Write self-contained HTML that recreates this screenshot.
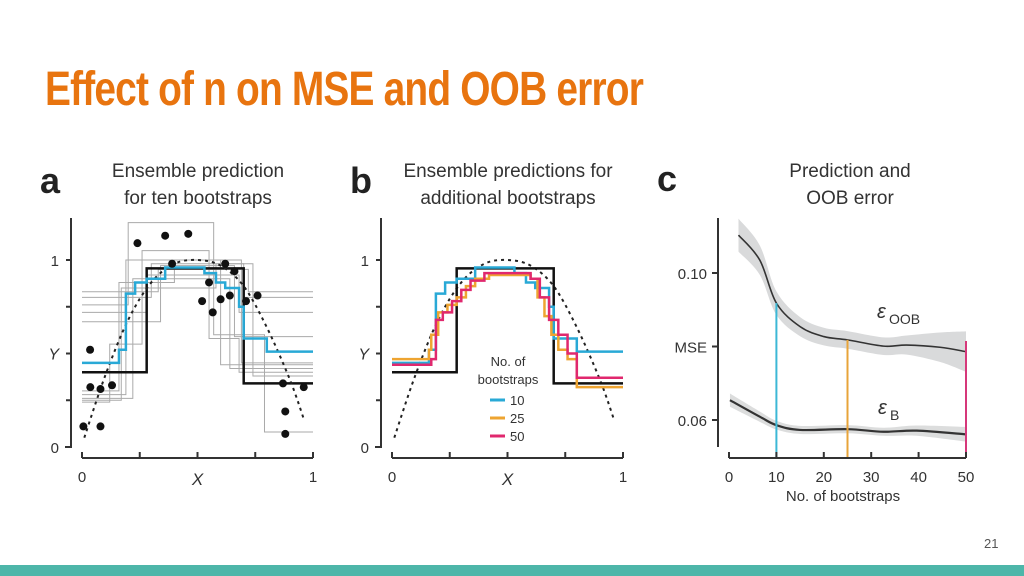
<!DOCTYPE html>
<html><head><meta charset="utf-8"><style>
html,body{margin:0;padding:0;background:#fff;}
#root{position:relative;width:1024px;height:576px;overflow:hidden;background:#fff;font-family:"Liberation Sans",sans-serif;}
#title{position:absolute;left:45px;top:62px;font-family:"Liberation Sans Narrow","Liberation Sans",sans-serif;font-weight:bold;font-size:48px;color:#e8740f;white-space:nowrap;transform-origin:0 0;letter-spacing:-1px;}
#pagenum{position:absolute;left:984px;top:536px;font-size:13px;color:#555;}
#bar{position:absolute;left:0;top:565px;width:1024px;height:11px;background:#4db6a9;}
svg{position:absolute;left:0;top:0;}
</style></head><body>
<div id="root">
<div id="title">Effect of n on MSE and OOB error</div>
<svg id="chart" width="1024" height="576"></svg>
<div id="pagenum">21</div>
<div id="bar"></div>
</div>
<script>
// ---- data ----
const trueStep = [[0,0.40],[0.28,0.955],[0.70,0.34]];
const truthCurve = [[0.01,0.05],[0.1,0.38],[0.2,0.68],[0.3,0.88],[0.4,0.98],[0.5,1.0],[0.6,0.97],[0.7,0.86],[0.8,0.64],[0.9,0.36],[0.96,0.15]];
const blueStep = [[0,0.45],[0.16,0.52],[0.19,0.82],[0.23,0.88],[0.28,0.90],[0.36,0.96],[0.53,0.93],[0.58,0.88],[0.62,0.85],[0.68,0.75],[0.70,0.58],[0.80,0.51]];
const orangeStep = [[0,0.47],[0.16,0.52],[0.17,0.60],[0.20,0.72],[0.24,0.76],[0.28,0.80],[0.32,0.86],[0.36,0.90],[0.42,0.92],[0.60,0.90],[0.63,0.80],[0.66,0.70],[0.69,0.60],[0.72,0.52],[0.76,0.47],[0.80,0.32]];
const magentaStep = [[0,0.44],[0.17,0.47],[0.19,0.68],[0.22,0.72],[0.26,0.78],[0.30,0.84],[0.34,0.89],[0.40,0.93],[0.60,0.90],[0.64,0.80],[0.68,0.68],[0.72,0.60],[0.76,0.50],[0.80,0.37]];
const grayTrees = [
 [[0,0.83],[0.33,0.95],[0.72,0.83]],
 [[0,0.80],[0.30,0.98],[0.70,0.80]],
 [[0,0.76],[0.20,1.2],[0.57,0.60],[0.79,0.08]],
 [[0,0.72],[0.28,0.92],[0.68,0.72]],
 [[0,0.67],[0.34,0.97],[0.66,0.59]],
 [[0,0.30],[0.16,0.88],[0.40,1.0],[0.69,0.45]],
 [[0,0.28],[0.19,1.0],[0.60,0.44]],
 [[0,0.26],[0.22,0.90],[0.64,0.42]],
 [[0,0.25],[0.17,0.85],[0.58,0.98],[0.74,0.38]],
 [[0,0.24],[0.12,0.55],[0.26,1.05],[0.55,0.58],[0.68,0.40]]
];
const pointsX = [0.035,0.036,0.08,0.13,0.006,0.08,0.24,0.36,0.46,0.39,0.52,0.566,0.55,0.60,0.64,0.62,0.66,0.71,0.76,0.87,0.96,0.88,0.88];
const pointsY = [0.52,0.32,0.31,0.33,0.11,0.11,1.09,1.13,1.14,0.98,0.78,0.72,0.88,0.79,0.81,0.98,0.94,0.78,0.81,0.34,0.32,0.19,0.07];
const nBoot = [2,6.5,10,15,20,25,32.6,37.5,44.5,50];
const oobMSE = [0.1103,0.1035,0.0918,0.0854,0.0827,0.0818,0.0801,0.0804,0.0798,0.0786];
const oobBand = [0.0045,0.0040,0.0032,0.0026,0.0024,0.0024,0.0024,0.0026,0.0040,0.0055];
const bBoot = [0.2,6.5,10,15,25,32.6,39.6,50];
const bMSE = [0.0654,0.0609,0.0586,0.0573,0.0575,0.0568,0.0571,0.0561];
const bBand = [0.0018,0.0014,0.0012,0.0011,0.0011,0.0011,0.0014,0.0020];
const markers = [10,25,50];
const markerTops = [0.0918,0.0818,0.0815];
const xTicksAB = ['0','','','','1'];
const xTicksC = [0,10,20,30,40,50];
const yTicksC = [0.06,0.10];

const NS='http://www.w3.org/2000/svg';
const svg=document.getElementById('chart');
function mk(tag,attrs,parent){const e=document.createElementNS(NS,tag);for(const k in attrs)e.setAttribute(k,attrs[k]);(parent||svg).appendChild(e);return e;}
function txt(x,y,s,size,anchor,parent,extra){const t=mk('text',Object.assign({x:x,y:y,'font-size':size,'text-anchor':anchor||'start',fill:'#333','font-family':'Liberation Sans, sans-serif'},extra||{}),parent);t.textContent=s;return t;}
function smooth(pts){let d='M'+pts[0][0]+','+pts[0][1];
 for(let i=0;i<pts.length-1;i++){const p0=pts[Math.max(0,i-1)],p1=pts[i],p2=pts[i+1],p3=pts[Math.min(pts.length-1,i+2)];
  const c1=[p1[0]+(p2[0]-p0[0])/6,p1[1]+(p2[1]-p0[1])/6],c2=[p2[0]-(p3[0]-p1[0])/6,p2[1]-(p3[1]-p1[1])/6];
  d+='C'+c1[0]+','+c1[1]+' '+c2[0]+','+c2[1]+' '+p2[0]+','+p2[1];}
 return d;}

function panelAB(ox,label,t1,t2,id){
  const g=mk('g',{});
  
  
  const X=v=>ox+11+v*231, Y=v=>447-v*187;
  const stepPath=(arr)=>{let d='';arr.forEach((p,i)=>{const x=X(p[0]);const y=Y(p[1]);if(i===0)d+='M'+x+','+y;else d+='L'+x+','+Y(arr[i-1][1])+'L'+x+','+y;});d+='L'+X(1)+','+Y(arr[arr.length-1][1]);return d;};
  const pl=txt(ox-31,193,label,36,'start',g,{'font-weight':'bold',fill:'#222'});
   
  const tt=txt(ox+127,177,t1,19,'middle',g,{fill:'#333'});
   
  txt(ox+127,204,t2,19,'middle',g,{fill:'#333'});
  const ya=mk('path',{d:'M'+ox+',218V447H'+(ox-6),stroke:'#333','stroke-width':2,fill:'none'},g);
   
  [0.25,0.5,0.75,1].forEach(v=>mk('line',{x1:ox-5,x2:ox,y1:Y(v),y2:Y(v),stroke:'#333','stroke-width':2},g));
  txt(ox-12,Y(0)+6,'0',15,'end',g); txt(ox-12,Y(1)+6,'1',15,'end',g);
  txt(ox-12,Y(0.5)+6,'Y',16,'end',g,{'font-style':'italic'});
  const xa=mk('path',{d:'M'+X(0)+',458H'+X(1),stroke:'#333','stroke-width':2,fill:'none'},g);
   
  xTicksAB.forEach((s,i)=>{const v=i/4;mk('line',{x1:X(v),x2:X(v),y1:452,y2:458,stroke:'#333','stroke-width':2},g);if(s)txt(X(v),482,s,15,'middle',g);});
  txt(X(0.5),485,'X',17,'middle',g,{'font-style':'italic'});
  return {g,X,Y,stepPath};
}

// Panel a
const A=panelAB(71,'a','Ensemble prediction','for ten bootstraps','a');
grayTrees.forEach(t=>{const p=mk('path',{d:A.stepPath(t),stroke:'#aaa','stroke-width':1,fill:'none'},A.g);
  });
let pa=mk('path',{d:A.stepPath(trueStep),stroke:'#111','stroke-width':2.5,fill:'none'},A.g);
 
pa=mk('path',{d:smooth(truthCurve.map(p=>[A.X(p[0]),A.Y(p[1])])),stroke:'#222','stroke-width':2,'stroke-dasharray':'3,4',fill:'none'},A.g);
 
pa=mk('path',{d:A.stepPath(blueStep),stroke:'#29a9d6','stroke-width':2.5,fill:'none'},A.g);
 
pointsX.forEach((x,i)=>{const c=mk('circle',{cx:A.X(x),cy:A.Y(pointsY[i]),r:4,fill:'#111'},A.g);
  });

// Panel b
const B=panelAB(381,'b','Ensemble predictions for','additional bootstraps','b');
let pb=mk('path',{d:smooth(truthCurve.map(p=>[B.X(p[0]),B.Y(p[1])])),stroke:'#222','stroke-width':2,'stroke-dasharray':'3,4',fill:'none'},B.g);
 
pb=mk('path',{d:B.stepPath(trueStep),stroke:'#111','stroke-width':2.5,fill:'none'},B.g);
 
pb=mk('path',{d:B.stepPath(blueStep),stroke:'#29a9d6','stroke-width':2.5,fill:'none'},B.g);
 
pb=mk('path',{d:B.stepPath(orangeStep),stroke:'#eea431','stroke-width':2.5,fill:'none'},B.g);
 
pb=mk('path',{d:B.stepPath(magentaStep),stroke:'#e0286e','stroke-width':2.5,fill:'none'},B.g);
 
const lg=mk('g',{},B.g);
 
txt(508,366,'No. of',13,'middle',lg); txt(508,384,'bootstraps',13,'middle',lg);
[['10','#29a9d6'],['25','#eea431'],['50','#e0286e']].forEach((e,i)=>{const y=404+i*18;
 const ln=mk('line',{x1:490,x2:505,y1:y-4,y2:y-4,stroke:e[1],'stroke-width':3},lg);
  
 txt(510,y+1,e[0],13,'start',lg);});

// Panel c
const gc=mk('g',{});
 
const CX=v=>729+v*4.74, CY=v=>420-(v-0.06)*3675;
txt(657,191,'c',36,'start',gc,{'font-weight':'bold',fill:'#222'});
txt(850,177,'Prediction and',19,'middle',gc); txt(850,204,'OOB error',19,'middle',gc);
function band(xs,ys,ws,fill,name){const up=xs.map((x,i)=>[CX(x),CY(ys[i]+ws[i])]);const dn=xs.map((x,i)=>[CX(x),CY(ys[i]-ws[i])]).reverse();
 const d=smooth(up)+'L'+smooth(dn).slice(1)+'Z';
 const p=mk('path',{d:d,fill:fill},gc);
  }
function line(xs,ys,w,name){const p=mk('path',{d:smooth(xs.map((x,i)=>[CX(x),CY(ys[i])])),stroke:'#333','stroke-width':w,fill:'none'},gc);
  }
band(nBoot,oobMSE,oobBand,'#d9dadb','oob-band');
band(bBoot,bMSE,bBand,'#dcdddd','b-band');
line(nBoot,oobMSE,1.6,'oob-error-line');
line(bBoot,bMSE,2.2,'b-error-line');
const mcol=['#3cb8d6','#e8a43a','#d6387a'];
markers.forEach((m,i)=>{const l=mk('line',{x1:CX(m),x2:CX(m),y1:CY(markerTops[i]),y2:458,stroke:mcol[i],'stroke-width':2},gc);
  });
const cya=mk('path',{d:'M718,218V447',stroke:'#333','stroke-width':2,fill:'none'},gc);
 
yTicksC.concat([0.08]).forEach(v=>mk('line',{x1:712,x2:718,y1:CY(v),y2:CY(v),stroke:'#333','stroke-width':2},gc));
yTicksC.forEach(v=>txt(707,CY(v)+6,v.toFixed(2),15,'end',gc));
txt(707,CY(0.08)+6,'MSE',15,'end',gc);
const cxa=mk('path',{d:'M'+CX(0)+',458H'+CX(50),stroke:'#333','stroke-width':2,fill:'none'},gc);
 
xTicksC.forEach(v=>{mk('line',{x1:CX(v),x2:CX(v),y1:452,y2:458,stroke:'#333','stroke-width':2},gc);txt(CX(v),482,String(v),15,'middle',gc);});
txt(843,501,'No. of bootstraps',15,'middle',gc);
txt(877,318,'ε',20,'start',gc,{'font-style':'italic'}); txt(889,324,'OOB',14,'start',gc);
txt(878,414,'ε',20,'start',gc,{'font-style':'italic'}); txt(890,420,'B',14,'start',gc);

// fit title width
const t=document.getElementById('title');const w=t.getBoundingClientRect().width;t.style.transform='scaleX('+(598/w)+')';
</script>
</body></html>
